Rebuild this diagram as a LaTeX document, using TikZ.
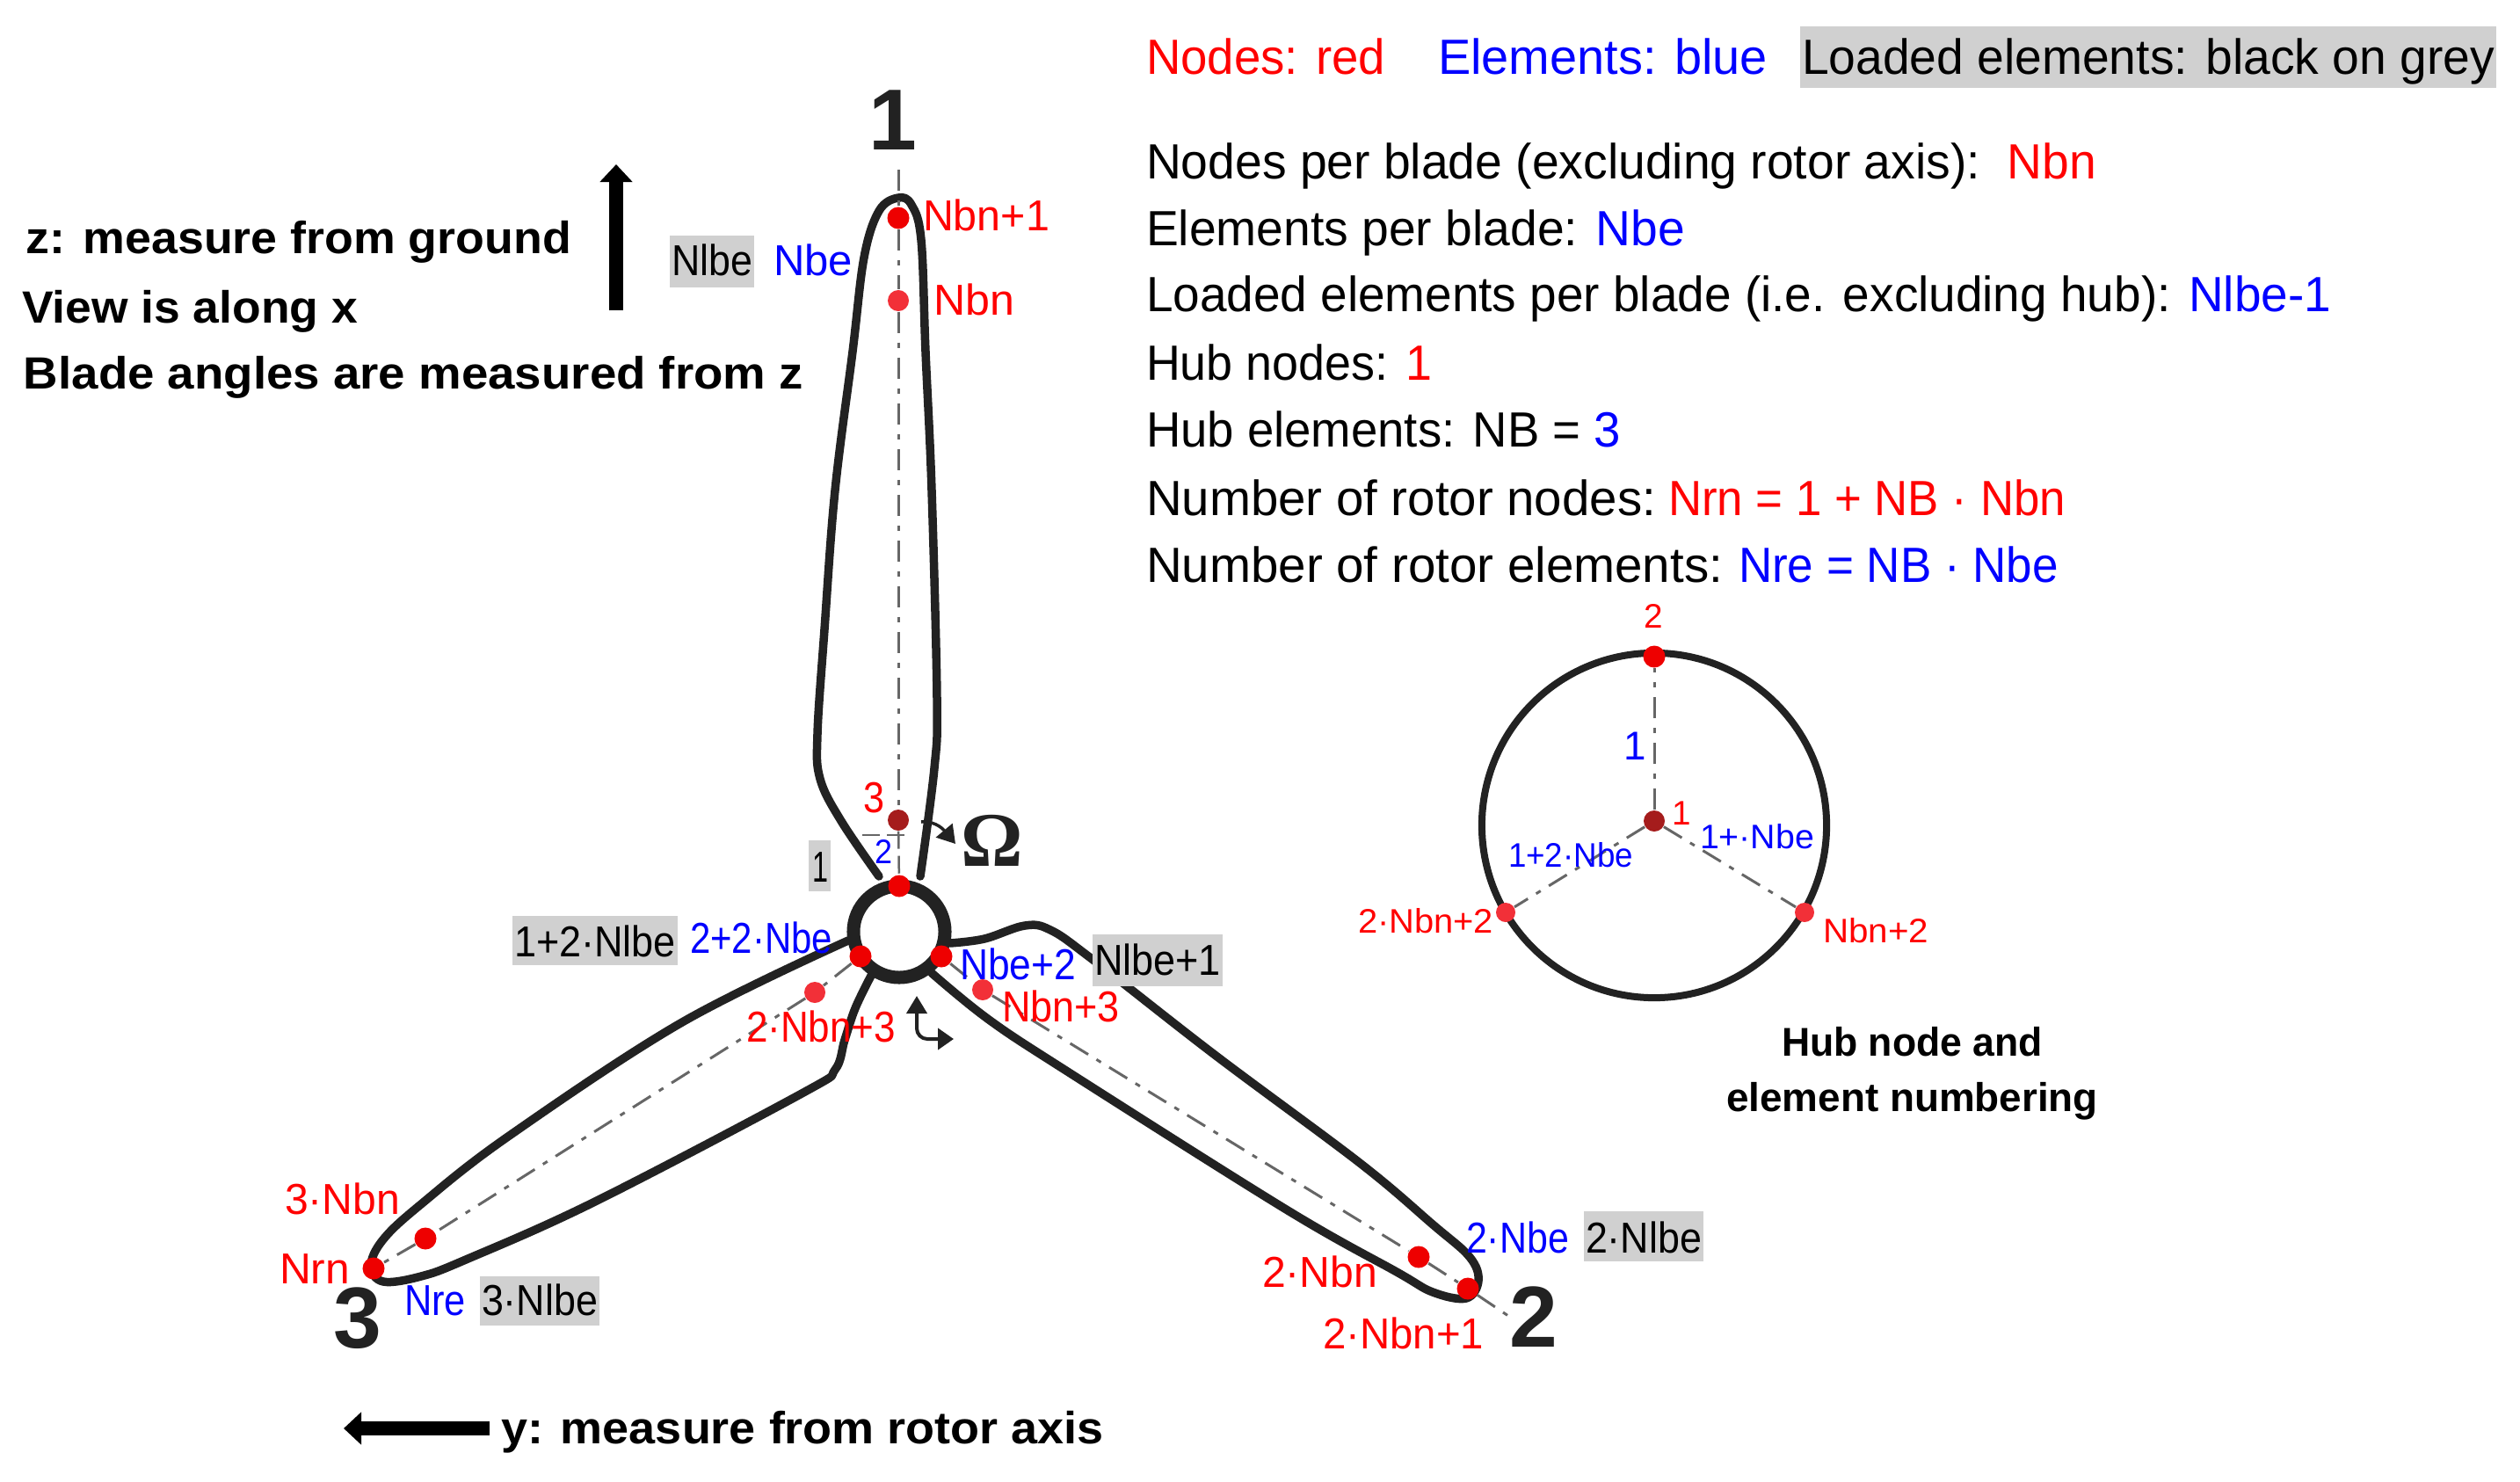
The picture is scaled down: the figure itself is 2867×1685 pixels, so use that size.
\documentclass[tikz,border=0pt]{standalone}
\usepackage{fontspec}
\usepackage{graphicx}
\setmainfont{Liberation Sans}
\newfontfamily\omfont{Liberation Serif}
\usetikzlibrary{arrows.meta}
\newlength\pxu \setlength\pxu{0.01cm}
\newcommand\tw[2]{\resizebox{#1\pxu}{\height}{#2}}
\newcommand\mylab[6]{\node[lab,#1] (#2) at (#3,#4) {\tw{#5}{#6}};}
\definecolor{greyb}{HTML}{D0D0D0}
\definecolor{ink}{HTML}{222222}
\definecolor{noded}{HTML}{EE0000}
\definecolor{nodel}{HTML}{F23038}
\definecolor{noddark}{HTML}{A51C1C}
\definecolor{axisgrey}{HTML}{666666}
\tikzset{
  lab/.style={anchor=base west,inner sep=0pt,outer sep=0pt},
  redt/.style={text=red},
  bluet/.style={text=blue},
  blackt/.style={text=black},
  mainsize/.style={font=\fontsize{16}{18}\selectfont},
  labsize/.style={font=\fontsize{14}{16}\selectfont},
  insetsize/.style={font=\fontsize{11}{13}\selectfont},
  boldsize/.style={font=\fontsize{14.6}{16}\selectfont\bfseries},
  hubbold/.style={font=\fontsize{13}{15}\selectfont\bfseries},
  bignum/.style={lab,anchor=base,text=ink,font=\fontsize{28}{30}\selectfont\bfseries},
  bladeline/.style={draw=ink,line width=0.095cm,line cap=round,line join=round},
  hubring/.style={draw=ink,line width=0.15cm},
  insetring/.style={draw=ink,line width=0.08cm},
  axisline/.style={draw=axisgrey,line width=0.03cm,dash pattern=on 0.24cm off 0.11cm on 0.06cm off 0.11cm},
  dashthin/.style={draw=axisgrey,line width=0.025cm,dash pattern=on 0.2cm off 0.08cm},
  greybox/.style={fill=greyb},
  nodedot/.style={circle,inner sep=0pt,minimum size=0.25cm,fill=noded},
  nodelight/.style={circle,inner sep=0pt,minimum size=0.24cm,fill=nodel},
  nodedark/.style={circle,inner sep=0pt,minimum size=0.24cm,fill=noddark},
  bigarrow/.style={draw=black,line width=0.16cm,-{Triangle[length=0.2cm,width=0.36cm]}},
  thinarrow/.style={draw=ink,line width=0.035cm,-{Triangle[length=0.2cm,width=0.24cm]}},
  thinarrowboth/.style={draw=ink,line width=0.04cm,{Triangle[length=0.2cm,width=0.23cm]}-{Triangle[length=0.18cm,width=0.24cm]}},
}
\begin{document}
\begin{tikzpicture}[x=0.01cm,y=-0.01cm]
\useasboundingbox (0,0) rectangle (2867,1685);

% blades
\draw[bladeline] plot[smooth,tension=0.6] coordinates {(1000,997) (957,934) (933,886) (930,835) (938,716) (950,558) (970,400) (983,293) (1000,240) (1022,225) (1037,233) (1048,273) (1053,400) (1060,558) (1066,795) (1063,874) (1047,997)};
\draw[bladeline] plot[smooth,tension=0.6] coordinates {(1081,1073) (1120,1068) (1166,1053) (1195,1058) (1241,1090) (1382,1200) (1547,1323) (1630,1393) (1672,1430) (1682,1457) (1668,1477) (1630,1470) (1589,1447) (1465,1377) (1216,1220) (1125,1160) (1060,1107)};
\draw[bladeline] plot[smooth,tension=0.6] coordinates {(965,1070) (776,1163) (578,1293) (479,1370) (436,1410) (422,1440) (436,1458) (479,1452) (530,1433) (677,1367) (914,1243) (950,1217) (961,1183) (973,1147) (991,1110)};

% hub
\node[circle,hubring,inner sep=0pt,minimum size=1.04cm] (hub) at (1023,1060) {};

% rotor nodes
\node[nodedot] (hubtop) at (1023,1008) {};
\node[nodedot] (hubleft) at (979,1088) {};
\node[nodedot] (hubright) at (1071,1088) {};
\node[nodedark] (nthree) at (1022,933) {};
\node[nodelight] (nthreeb) at (1118,1126) {};
\node[nodelight] (nthreec) at (927,1129) {};
\node[nodedot] (tipa) at (1022,248) {};
\node[nodelight] (nearaa) at (1022,342) {};
\node[nodedot] (tipb) at (1670,1466) {};
\node[nodedot] (nearb) at (1614,1430) {};
\node[nodedot] (tipc) at (425,1443) {};
\node[nodedot] (nearc) at (484,1409) {};

% axes
\coordinate (axtopend) at (1022,193);
\coordinate (axbend) at (1716,1497);
\coordinate (dashl) at (981,950);
\coordinate (dashr) at (1034,950);
\draw[axisline] (axtopend) -- (tipa);
\draw[axisline] (tipa) -- (nearaa);
\draw[axisline] (nearaa) -- (nthree);
\draw[dashthin] (nthree) -- (hubtop);
\draw[dashthin] (dashl) -- (dashr);
\draw[axisline] (hubright) -- (nthreeb);
\draw[axisline] (nthreeb) -- (nearb);
\draw[axisline] (nearb) -- (tipb);
\draw[axisline] (tipb) -- (axbend);
\draw[axisline] (hubleft) -- (nthreec);
\draw[axisline] (nthreec) -- (nearc);
\draw[axisline] (nearc) -- (tipc);

% big direction arrows
\coordinate (zfoot) at (701,353);
\coordinate (zhead) at (701,187);
\draw[bigarrow] (zfoot) -- (zhead);
\coordinate (yfoot) at (557,1625);
\coordinate (yhead) at (391,1625);
\draw[bigarrow] (yfoot) -- (yhead);

% small arrows
\coordinate (omstart) at (1048,935);
\coordinate (omtip) at (1087,960);
\draw[thinarrow] (omstart) to[out=5,in=130] (omtip);
\coordinate (turnup) at (1043,1133);
\coordinate (turnright) at (1085,1182);
\draw[thinarrowboth,rounded corners=0.12cm] (turnup) -- (1043,1182) -- (turnright);

% grey boxes
\path[greybox] (2048,30) rectangle (2840,100);
\path[greybox] (762,268) rectangle (858,327);
\path[greybox] (920,956) rectangle (945,1014);
\path[greybox] (583,1042) rectangle (771,1098);
\path[greybox] (1243,1063) rectangle (1391,1122);
\path[greybox] (1802,1378) rectangle (1938,1435);
\path[greybox] (546,1452) rectangle (682,1508);

% legend and counts
\mylab{redt,mainsize}{lega}{1304}{85}{272}{Nodes: red}
\mylab{bluet,mainsize}{legb}{1636}{85}{375}{Elements: blue}
\mylab{blackt,mainsize}{legc}{2050}{85}{788}{Loaded elements: black on grey}
\mylab{mainsize}{cnta}{1304}{203}{1081}{Nodes per blade (excluding rotor axis):\ \ \textcolor{red}{Nbn}}
\mylab{mainsize}{cntb}{1304}{279}{613}{Elements per blade: \textcolor{blue}{Nbe}}
\mylab{mainsize}{cntc}{1304}{354}{1348}{Loaded elements per blade (i.e. excluding hub): \textcolor{blue}{Nlbe-1}}
\mylab{mainsize}{cntd}{1304}{432}{325}{Hub nodes: \textcolor{red}{1}}
\mylab{mainsize}{cnte}{1304}{508}{540}{Hub elements: NB = \textcolor{blue}{3}}
\mylab{mainsize}{cntf}{1304}{586}{580}{Number of rotor nodes:}
\mylab{redt,mainsize}{cntfb}{1898}{586}{452}{Nrn = 1 + NB · Nbn}
\mylab{mainsize}{cntg}{1304}{662}{656}{Number of rotor elements:}
\mylab{bluet,mainsize}{cntgb}{1978}{662}{364}{Nre = NB · Nbe}

% left notes
\mylab{boldsize}{notea}{30}{288}{620}{z: measure from ground}
\mylab{boldsize}{noteb}{25}{367}{382}{View is along x}
\mylab{boldsize}{notec}{27}{442}{887}{Blade angles are measured from z}
\mylab{boldsize}{noted}{570}{1642}{686}{y: measure from rotor axis}

% big numbers
\node[bignum] (bigone) at (1016,170) {1};
\node[bignum] (bigtwo) at (1745,1532) {2};
\node[bignum] (bigthree) at (407,1533) {3};
\node[lab,anchor=base,text=ink,font=\omfont\fontsize{25}{27}\selectfont\bfseries] (omega) at (1129,985) {Ω};

% rotor labels
\mylab{labsize}{lnlbe}{764}{314}{92}{Nlbe}
\mylab{bluet,labsize}{lnbe}{880}{314}{90}{Nbe}
\mylab{redt,labsize}{lnbnp}{1050}{262}{144}{Nbn+1}
\mylab{redt,labsize}{lnbn}{1062}{358}{92}{Nbn}
\mylab{redt,labsize}{lthree}{982}{924}{24}{3}
\mylab{bluet,insetsize}{ltwob}{995}{982}{20}{2}
\mylab{labsize}{lonek}{924}{1003}{18}{1}
\mylab{labsize}{lonetwo}{585}{1088}{184}{1+2·Nlbe}
\mylab{bluet,labsize}{ltwotwo}{785}{1084}{162}{2+2·Nbe}
\mylab{redt,labsize}{ltwonbn}{849}{1185}{170}{2·Nbn+3}
\mylab{bluet,labsize}{lnbetwo}{1092}{1114}{132}{Nbe+2}
\mylab{labsize}{lnlbeone}{1245}{1109}{144}{Nlbe+1}
\mylab{redt,labsize}{lnbnthree}{1140}{1162}{134}{Nbn+3}
\mylab{bluet,labsize}{ltnbe}{1668}{1425}{117}{2·Nbe}
\mylab{labsize}{ltnlbe}{1804}{1425}{132}{2·Nlbe}
\mylab{redt,labsize}{ltnbn}{1436}{1464}{131}{2·Nbn}
\mylab{redt,labsize}{ltnbnp}{1505}{1534}{183}{2·Nbn+1}
\mylab{redt,labsize}{lthnbn}{324}{1381}{131}{3·Nbn}
\mylab{redt,labsize}{lnrn}{318}{1460}{80}{Nrn}
\mylab{bluet,labsize}{lnre}{460}{1496}{70}{Nre}
\mylab{labsize}{lthnlbe}{548}{1496}{132}{3·Nlbe}

% hub inset
\node[circle,insetring,inner sep=0pt,minimum size=3.92cm] (inring) at (1882,939) {};
\node[nodedot] (intop) at (1882,747) {};
\node[nodedark] (incen) at (1882,934) {};
\node[nodelight,minimum size=0.22cm] (inleft) at (1713,1038) {};
\node[nodelight,minimum size=0.22cm] (inright) at (2053,1038) {};
\draw[axisline] (incen) -- (intop);
\draw[axisline] (incen) -- (inleft);
\draw[axisline] (incen) -- (inright);
\node[lab,anchor=base,redt,insetsize] (intwo) at (1881,714) {2};
\node[lab,anchor=base,bluet,font=\fontsize{13}{15}\selectfont] (inoneb) at (1860,864) {1};
\node[lab,anchor=base,redt,insetsize] (inoner) at (1913,938) {1};
\mylab{bluet,insetsize}{inba}{1716}{986}{142}{1+2·Nbe}
\mylab{bluet,insetsize}{inbb}{1934}{965}{130}{1+·Nbe}
\mylab{redt,insetsize}{inra}{1545}{1061}{154}{2·Nbn+2}
\mylab{redt,insetsize}{inrb}{2074}{1072}{120}{Nbn+2}
\mylab{hubbold}{capa}{2027}{1201}{297}{Hub node and}
\mylab{hubbold}{capb}{1964}{1264}{423}{element numbering}
\end{tikzpicture}
\end{document}
